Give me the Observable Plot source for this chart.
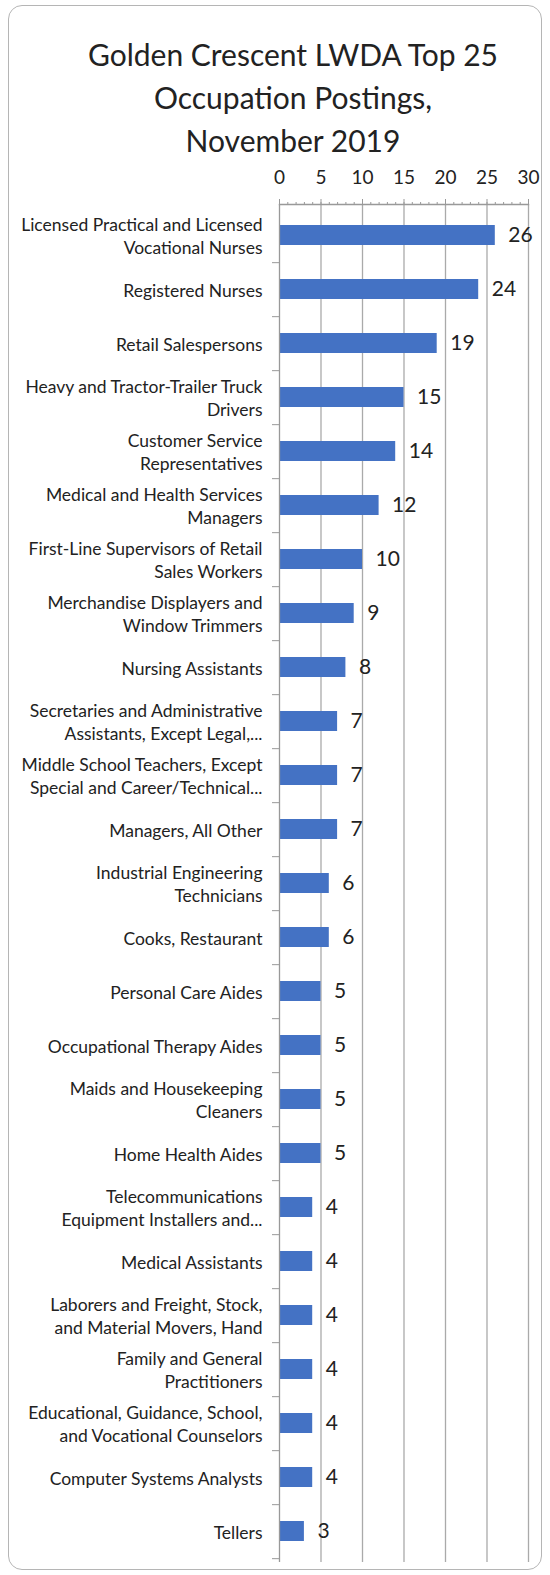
<!DOCTYPE html>
<html><head><meta charset="utf-8">
<script src="https://cdn.jsdelivr.net/npm/d3@7"></script>
<script src="https://cdn.jsdelivr.net/npm/@observablehq/plot@0.6"></script>
<style>
body{margin:0;background:#fff;font-family:Lato,"Open Sans",sans-serif;}
#frame{position:absolute;left:8px;top:5px;width:534px;height:1565px;border:1.5px solid #b5b5b5;border-radius:14px;box-sizing:border-box;}
#title{position:absolute;left:0;top:33px;width:586px;text-align:center;font-size:30px;line-height:43px;color:#222;}
#chart{position:absolute;left:0;top:150px;}
</style></head><body>
<div id="frame"></div>
<div id="title">Golden Crescent LWDA Top 25<br>Occupation Postings,<br>November 2019</div>
<div id="chart"></div>
<script>
const categories = [
  "Licensed Practical and Licensed\nVocational Nurses",
  "Registered Nurses",
  "Retail Salespersons",
  "Heavy and Tractor-Trailer Truck\nDrivers",
  "Customer Service\nRepresentatives",
  "Medical and Health Services\nManagers",
  "First-Line Supervisors of Retail\nSales Workers",
  "Merchandise Displayers and\nWindow Trimmers",
  "Nursing Assistants",
  "Secretaries and Administrative\nAssistants, Except Legal,...",
  "Middle School Teachers, Except\nSpecial and Career/Technical...",
  "Managers, All Other",
  "Industrial Engineering\nTechnicians",
  "Cooks, Restaurant",
  "Personal Care Aides",
  "Occupational Therapy Aides",
  "Maids and Housekeeping\nCleaners",
  "Home Health Aides",
  "Telecommunications\nEquipment Installers and...",
  "Medical Assistants",
  "Laborers and Freight, Stock,\nand Material Movers, Hand",
  "Family and General\nPractitioners",
  "Educational, Guidance, School,\nand Vocational Counselors",
  "Computer Systems Analysts",
  "Tellers"
];
const values = [26, 24, 19, 15, 14, 12, 10, 9, 8, 7, 7, 7, 6, 6, 5, 5, 5, 5, 4, 4, 4, 4, 4, 4, 3];
const majorTicks = [0, 5, 10, 15, 20, 25, 30];
const minorTicks = d3.range(0, 31, 1);

const rows = categories.map((c, i) => ({category: c, value: values[i]}));

const W = 550, H = 1420, mt = 54, mb = 8, ml = 279, mr = 22;
const step = (H - mt - mb) / categories.length;

const chart = Plot.plot({
  width: W, height: H,
  marginTop: mt, marginBottom: mb, marginLeft: ml, marginRight: mr,
  style: {fontFamily: "Lato, 'Open Sans', sans-serif", fontSize: "16px", color: "#222", background: "transparent", overflow: "visible"},
  x: {domain: [0, 30], label: null},
  y: {domain: categories, padding: 0, label: null},
  marks: [
    Plot.gridX({ticks: majorTicks.slice(1), stroke: "#aaa", strokeOpacity: 1, strokeWidth: 1.3}),
    Plot.barX(rows, {x: "value", y: "category", fill: "#4472c4", insetTop: 17, insetBottom: 17}),
    Plot.ruleX([0], {stroke: "#999", strokeWidth: 1.3}),
    Plot.frame({anchor: "top", stroke: "#999", strokeWidth: 1.3}),
    Plot.axisX({anchor: "top", ticks: majorTicks, tickSize: 6, tickPadding: 15, fontSize: 19, stroke: "#999", label: null}),
    Plot.axisX({anchor: "top", ticks: minorTicks, tickSize: 3, text: null, stroke: "#999", label: null}),
    Plot.axisY({tickSize: 0, tickPadding: 17, fontSize: 17.5, lineHeight: 1.32, label: null}),
    Plot.axisY({tickSize: 7, text: null, dy: step / 2, stroke: "#999", label: null}),
    Plot.text(rows, {x: "value", y: "category", text: d => String(d.value), dx: 13, textAnchor: "start", fontSize: 21, fill: "#222"})
  ]
});
document.getElementById("chart").appendChild(chart);
</script>
</body></html>
